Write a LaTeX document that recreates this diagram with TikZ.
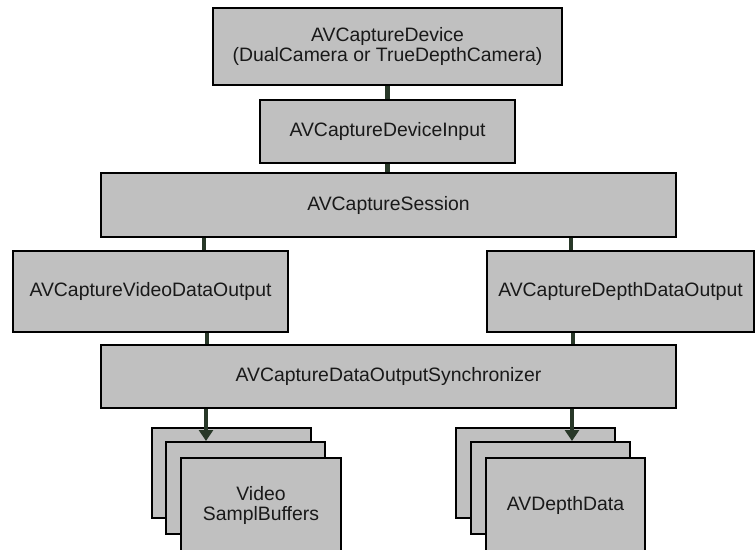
\documentclass[tikz,border=0pt]{standalone}
\usepackage{fontspec}
\setmainfont{Liberation Sans}
\usetikzlibrary{arrows.meta}
\definecolor{boxgray}{RGB}{192,192,192}
\definecolor{conngreen}{RGB}{40,56,40}
\definecolor{txt}{RGB}{25,25,25}
\begin{document}
\begin{tikzpicture}[x=1pt,y=-1pt,
  box/.style={draw=black, fill=boxgray, line width=2pt, inner sep=0pt,
    text=txt, align=center, font=\fontsize{19.4}{20}\selectfont},
  conn/.style={draw=conngreen, line width=4.2pt},
  arr/.style={conn, -{Triangle[width=14pt,length=11pt]}}]
\useasboundingbox (0,0) rectangle (755,549);
% main boxes
\node[box, minimum width=349pt, minimum height=77pt] (dev) at (387.5,46.5)
  {AVCaptureDevice\\(DualCamera or TrueDepthCamera)};
\node[box, minimum width=255pt, minimum height=63pt] (inp) at (387.5,131.5) {AVCaptureDeviceInput};
\node[box, minimum width=575pt, minimum height=64pt] (sess) at (388.5,205) {AVCaptureSession};
\node[box, minimum width=275pt, minimum height=81pt] (vout) at (150.5,291.5) {AVCaptureVideoDataOutput};
\node[box, minimum width=267pt, minimum height=81pt] (dout) at (620.5,291.5) {AVCaptureDepthDataOutput};
\node[box, minimum width=575pt, minimum height=63pt] (sync) at (388.5,376.5) {AVCaptureDataOutputSynchronizer};
% left stack
\node[box, minimum width=159pt, minimum height=90pt] (lback) at (231.5,473) {};
\node[box, minimum width=159pt, minimum height=92pt] (lmid) at (245.5,488) {};
\node[box, minimum width=160pt, minimum height=94pt] (lfront) at (261,505) {Video\\SamplBuffers};
% right stack
\node[box, minimum width=159pt, minimum height=90pt] (rback) at (535.5,473) {};
\node[box, minimum width=159pt, minimum height=92pt] (rmid) at (550.5,488) {};
\node[box, minimum width=159pt, minimum height=94pt] (rfront) at (565.5,505) {AVDepthData};
% connectors
\draw[conn] (dev.south) -- (inp.north);
\draw[conn] (inp.south) -- (inp.south |- sess.north);
\draw[conn] ([xshift=104pt]sess.south west) -- ([xshift=104pt]sess.south west |- vout.north);
\draw[conn] ([xshift=471pt]sess.south west) -- ([xshift=471pt]sess.south west |- dout.north);
\draw[conn] ([xshift=56.5pt]vout.south) -- ([xshift=56.5pt]vout.south |- sync.north);
\draw[conn] ([xshift=-47.5pt]dout.south) -- ([xshift=-47.5pt]dout.south |- sync.north);
\draw[arr] ([xshift=106pt]sync.south west) -- ([xshift=106pt]sync.south west |- lmid.north);
\draw[arr] ([xshift=472pt]sync.south west) -- ([xshift=472pt]sync.south west |- rmid.north);
\end{tikzpicture}
\end{document}
